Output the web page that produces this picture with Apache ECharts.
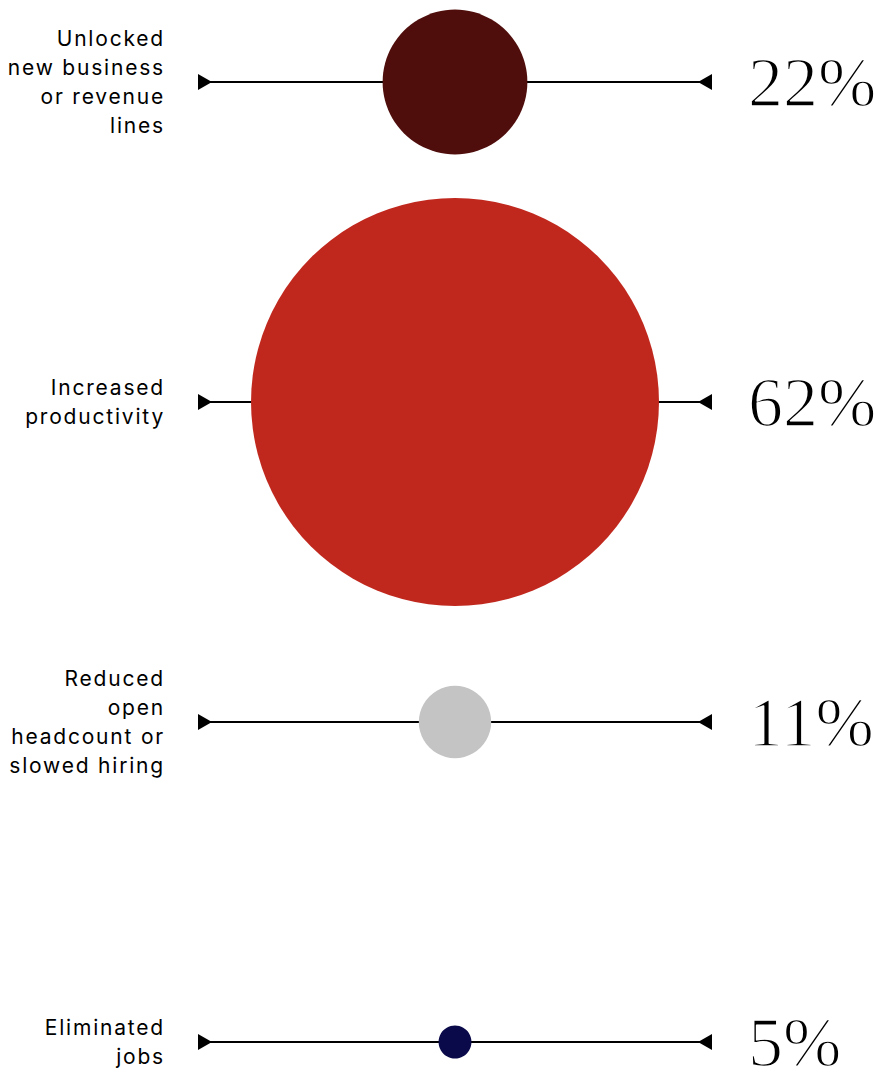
<!DOCTYPE html>
<html>
<head>
<meta charset="utf-8">
<script src="https://cdn.jsdelivr.net/npm/echarts@6/dist/echarts.min.js"></script>
<style>
html,body{margin:0;padding:0;background:#fff;overflow:hidden;}
#chart{width:876px;height:1082px;}
#chart text[text-anchor="end"]{letter-spacing:1.8px;}
#chart text[text-anchor="start"]{paint-order:fill stroke;stroke:#fff;stroke-width:1.6px;stroke-linejoin:round;}
</style>
</head>
<body>
<div id="chart"></div>
<script>
const categories = [
  "Unlocked\nnew business\nor revenue\nlines",
  "Increased\nproductivity",
  "Reduced\nopen\nheadcount or\nslowed hiring",
  "Eliminated\njobs"
];
const values = [22, 62, 11, 5];
const colors = ["#4f0e0c", "#c0281e", "#c4c4c4", "#0a0a4a"];
const valueLabels = values.map(v => v + "%");

const PX_PER_PCT = 6.58;

const chart = echarts.init(document.getElementById('chart'), null, {renderer: 'svg'});

const lineSeries = categories.map((c, i) => ({
  type: 'line',
  data: [[-1, i], [1, i]],
  symbol: 'none',
  lineStyle: {color: '#000', width: 2},
  silent: true,
  z: 1,
  animation: false
}));

const option = {
  animation: false,
  grid: {left: 205, right: 171, top: 82, bottom: 40, containLabel: false, outerBoundsMode: 'none'},
  xAxis: {
    type: 'value', min: -1, max: 1,
    show: false
  },
  yAxis: [
    {
      type: 'category', data: categories, inverse: true, boundaryGap: false,
      position: 'left',
      axisLine: {show: false}, axisTick: {show: false}, splitLine: {show: false},
      axisLabel: {
        margin: 40, align: 'right', color: '#000',
        fontFamily: 'Inter', fontSize: 21, lineHeight: 29
      }
    },
    {
      type: 'category', data: valueLabels, inverse: true, boundaryGap: false,
      position: 'right',
      axisLine: {show: false}, axisTick: {show: false}, splitLine: {show: false},
      axisLabel: {
        margin: 43, align: 'left', color: '#000',
        fontFamily: 'Liberation Serif', fontSize: 70
      }
    }
  ],
  series: [
    ...lineSeries,
    {
      type: 'scatter',
      data: values.map((v, i) => ({value: [0, i], symbolSize: v * PX_PER_PCT, itemStyle: {color: colors[i], opacity: 1}})),
      itemStyle: {opacity: 1},
      z: 3
    },
    {
      type: 'scatter',
      data: categories.map((c, i) => [-1, i]),
      symbol: 'triangle', symbolSize: [16, 14], symbolRotate: -90,
      itemStyle: {color: '#000', opacity: 1}, z: 4
    },
    {
      type: 'scatter',
      data: categories.map((c, i) => [1, i]),
      symbol: 'triangle', symbolSize: [16, 14], symbolRotate: 90,
      itemStyle: {color: '#000', opacity: 1}, z: 4
    }
  ]
};
chart.setOption(option);
</script>
</body>
</html>
